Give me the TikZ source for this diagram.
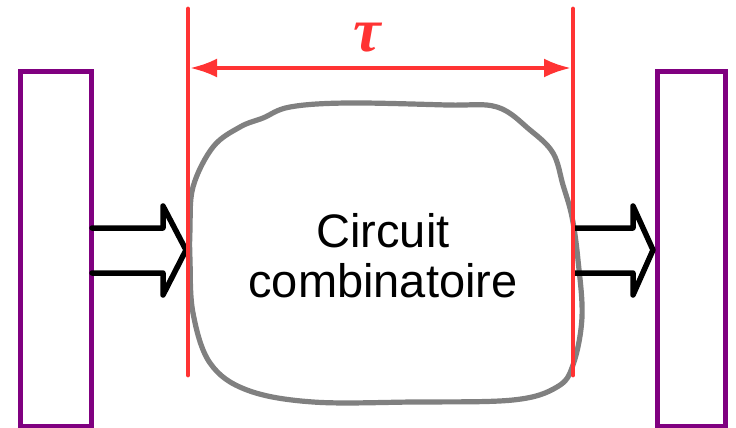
\documentclass[tikz,border=0pt]{standalone}
\usepackage{fontspec}
\setmainfont{Liberation Sans}
\newfontfamily\taufont{Liberation Serif}
\usetikzlibrary{arrows.meta}
\definecolor{rred}{HTML}{FF3333}
\definecolor{ppurple}{HTML}{800080}
\definecolor{ggray}{HTML}{808080}
\tikzset{
  reg/.style={draw=ppurple, line width=5pt, rectangle, inner sep=0pt},
  blockarrow/.style={draw=black, line width=5.5pt, line join=round, line cap=round},
  timeline/.style={draw=rred, line width=4.8pt, line cap=round},
  blob/.style={draw=ggray, line width=5.2pt},
  dim/.style={draw=rred, line width=3.8pt, {Latex[length=27pt,width=19pt]}-{Latex[length=27pt,width=19pt]}},
}
\begin{document}
\begin{tikzpicture}[x=1pt,y=-1pt]
\useasboundingbox (0,0) rectangle (736,428);
% registers
\node[reg, minimum width=71pt, minimum height=354pt] (regL) at (55.5,249) {};
\node[reg, minimum width=68pt, minimum height=354pt] (regR) at (691,249) {};
% blob
\draw[blob] plot[smooth cycle, tension=0.6] coordinates {
 (263,118) (290,107) (347,103) (447,105) (497,107) (530,130) (553,153)
 (563,185) (572,217) (578,260) (582,317) (573,365) (557,387) (513,400)
 (413,402) (313,402) (247,390) (210,363) (193,313) (190,260) (190,230)
 (193,187) (213,147) (240,127)};
\node[align=center, font=\fontsize{47}{50}\selectfont] (circ) at (383,256) {Circuit\\combinatoire};
% block arrows
\coordinate (inLt) at (92,228); \coordinate (inLb) at (92,273);
\coordinate (inRt) at (575,228); \coordinate (inRb) at (575,273);
\draw[blockarrow] (inLt) -- (163,228) -- (163,206) -- (186,250) -- (163,295) -- (163,273) -- (inLb);
\draw[blockarrow] (inRt) -- (633,228) -- (633,206) -- (653,250) -- (633,295) -- (633,273) -- (inRb);
% timing lines
\coordinate (lt) at (188,9); \coordinate (lb) at (188,375);
\coordinate (rt) at (573,9); \coordinate (rb) at (573,375);
\draw[timeline] (lt) -- (lb);
\draw[timeline] (rt) -- (rb);
\coordinate (da) at (190,68); \coordinate (db) at (571,68);
\draw[dim] (da) -- (db);
\node[text=rred, font=\taufont\bfseries\itshape\fontsize{62}{62}\selectfont] (tau) at (367,38) {τ};
\end{tikzpicture}
\end{document}
